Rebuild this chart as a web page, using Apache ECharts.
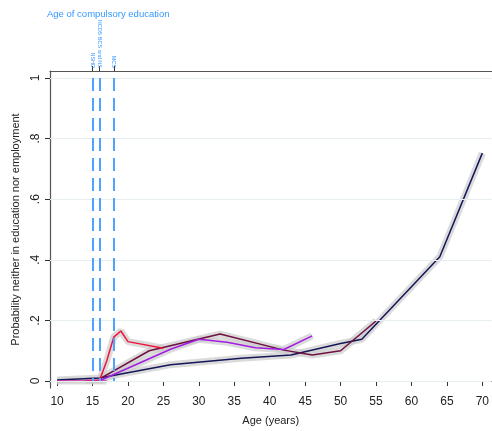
<!DOCTYPE html>
<html>
<head>
<meta charset="utf-8">
<script src="https://cdn.jsdelivr.net/npm/echarts@6/dist/echarts.min.js"></script>
<style>html,body{margin:0;padding:0;background:#fff}#c{width:492px;height:431px}</style>
</head>
<body>
<div id="c"></div>
<script>
// Data
const xTicks = [10,15,20,25,30,35,40,45,50,55,60,65,70];
const yTicks = [0,0.2,0.4,0.6,0.8,1];
const yTickLabels = ['0','.2','.4','.6','.8','1'];
const compAges = [15,16,18];
const compLabels = ['NSHD','NCDS BCS and NS','MCS'];

const navyAges = [10,16,26,36,43,50,53,64,70];
const navyVals = [0.003,0.01,0.054,0.075,0.086,0.124,0.138,0.41,0.752];
const maroonAges = [16,23,33,42,46,50,55];
const maroonVals = [0.007,0.1,0.155,0.102,0.086,0.1,0.198];
const purpleAges = [16,26,30,34,38,42,46];
const purpleVals = [0.001,0.105,0.138,0.128,0.11,0.104,0.149];
const redAges = [14,15,16,17,18,19,20,25];
const redVals = [0.002,0.002,0.003,0.066,0.145,0.165,0.13,0.108];
const mcsAges = [10,14,17];
const mcsVals = [0.0,0.0,0.0];

const pair = (a,v) => a.map((x,i)=>[x,v[i]]);
const FONT = 'Liberation Sans, Arial, sans-serif';

const lines = [
  {name:'NSHD', d:pair(navyAges,navyVals), c:'#16165a'},
  {name:'NCDS', d:pair(maroonAges,maroonVals), c:'#6e1040'},
  {name:'BCS', d:pair(purpleAges,purpleVals), c:'#a21ee0'},
  {name:'NS', d:pair(redAges,redVals), c:'#f0143c'},
  {name:'MCS', d:pair(mcsAges,mcsVals), c:'#d42aa8'}
];

const series = [];
// grid lines
series.push({
  type:'line', data:[], silent:true,
  markLine:{silent:true, symbol:'none', label:{show:false},
    lineStyle:{color:'#e6eef0', width:1, type:'solid'},
    data: yTicks.map(v=>({yAxis:v}))}
});
// CI bands
lines.forEach(l=>{
  series.push({type:'line', data:l.d, symbol:'none', silent:true, z:2,
    lineStyle:{color:'#cccccc', width:7, opacity:0.7}});
});
lines.forEach(l=>{
  series.push({type:'line', name:l.name, data:l.d, symbol:'none', z:3,
    lineStyle:{color:l.c, width:1.5}});
});
// compulsory ages dashed lines
series.push({
  type:'line', data:[], silent:true, z:4,
  markLine:{silent:true, symbol:'none', label:{show:false},
    lineStyle:{color:'#4da3ff', width:2, type:[13,7]},
    data: compAges.map(a=>[{coord:[a,1]},{coord:[a,0]}])}
});

const chart = echarts.init(document.getElementById('c'), null, {renderer:'canvas'});
chart.setOption({
  animation:false,
  backgroundColor:'#fff',
  title:{text:'Age of compulsory education', left:42, top:4,
    textStyle:{color:'#3399ff', fontSize:9.5, fontWeight:'normal', fontFamily:FONT}},
  grid:{left:50, right:0, top:71, bottom:42},
  xAxis:[{
    type:'value', min:9.0, max:71.3,
    name:'Age (years)', nameLocation:'middle', nameGap:27,
    nameTextStyle:{color:'#222', fontSize:11, fontFamily:FONT},
    axisLine:{show:true, lineStyle:{color:'#555', width:1.2}},
    axisTick:{show:true, length:5, lineStyle:{color:'#333'}, customValues:xTicks},
    axisLabel:{color:'#222', fontSize:12, fontFamily:FONT, margin:8, customValues:xTicks},
    splitLine:{show:false}
  },{
    type:'value', position:'top', min:9.0, max:71.3,
    axisLine:{show:true, onZero:false, lineStyle:{color:'#555', width:1.2}},
    axisTick:{show:true, length:5, lineStyle:{color:'#333'}, customValues:compAges},
    axisLabel:{show:true, customValues:compAges, rotate:90, fontSize:5.5, color:'#3399ff',
      fontFamily:FONT, margin:3,
      formatter:(v)=>{const i=compAges.indexOf(v); return i>=0?compLabels[i]:'';}},
    splitLine:{show:false}
  }],
  yAxis:{
    type:'value', min:-0.023, max:1.023,
    name:'Probability neither in education nor employment', nameLocation:'middle', nameGap:29,
    nameTextStyle:{color:'#222', fontSize:11, fontFamily:FONT},
    axisLine:{show:true, lineStyle:{color:'#555', width:1.2}},
    axisTick:{show:true, length:5, lineStyle:{color:'#333'}, customValues:yTicks},
    axisLabel:{color:'#222', fontSize:12, fontFamily:FONT, rotate:90, margin:8, customValues:yTicks,
      formatter:(v)=>{const i=yTicks.findIndex(t=>Math.abs(t-v)<1e-6); return i>=0?yTickLabels[i]:'';}},
    splitLine:{show:false}
  },
  series: series
});
</script>
</body>
</html>
